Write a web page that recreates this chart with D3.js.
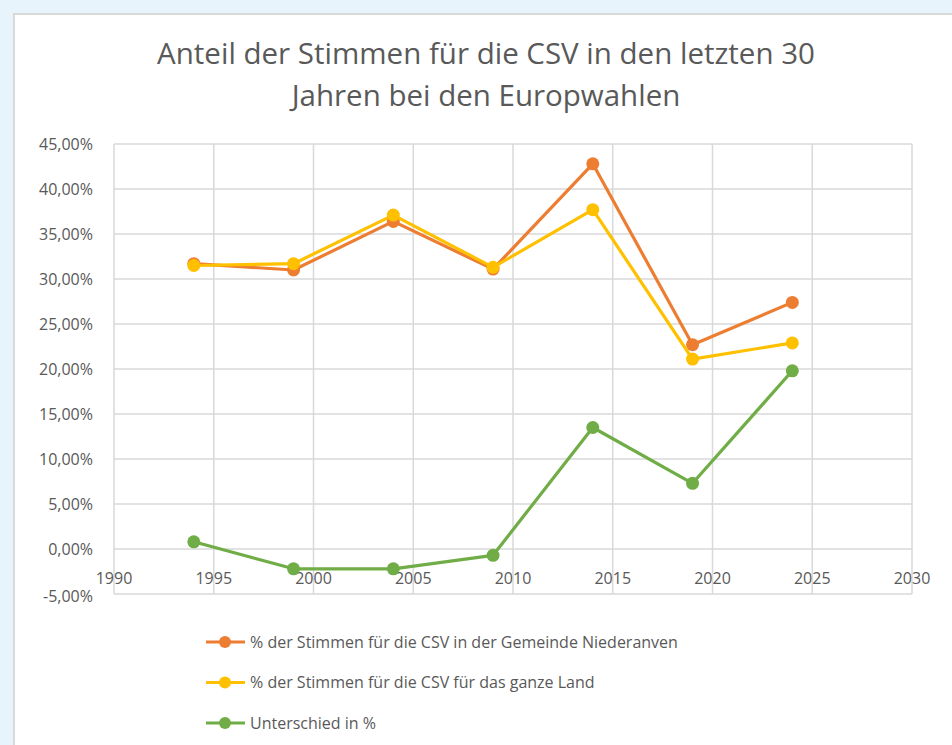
<!DOCTYPE html>
<html>
<head>
<meta charset="utf-8">
<title>CSV Europawahlen</title>
<style>
body { margin: 0; background: #e8f4fc; }
.card { position: absolute; left: 13px; top: 13px; width: 960px; height: 760px;
  background: #fff; border-left: 2px solid #d9d9d9; border-top: 2px solid #d9d9d9; }
svg { position: absolute; left: 0; top: 0; }
text { font-family: 'Open Sans', sans-serif; fill: #595959; }
.grid line { stroke: #d9d9d9; stroke-width: 1.5; }
.axis text { font-size: 16px; }
</style>
</head>
<body>
<div class="card"></div>
<svg width="952" height="745"></svg>
<script src="https://d3js.org/d3.v7.min.js"></script>
<script>

var years = [1994, 1999, 2004, 2009, 2014, 2019, 2024];
var gemeinde = [31.7, 31.0, 36.4, 31.1, 42.8, 22.7, 27.4];
var land = [31.5, 31.7, 37.1, 31.3, 37.7, 21.1, 22.9];
var unterschied = [0.8, -2.2, -2.2, -0.7, 13.5, 7.3, 19.8];

var seriesNames = [
  "% der Stimmen für die CSV in der Gemeinde Niederanven",
  "% der Stimmen für die CSV für das ganze Land",
  "Unterschied in %"
];
var colors = ["#ed7d31", "#ffc000", "#70ad47"];
var xTicks = [1990, 1995, 2000, 2005, 2010, 2015, 2020, 2025, 2030];
var yTicks = [-5, 0, 5, 10, 15, 20, 25, 30, 35, 40, 45];

var svg = d3.select("svg");

var x = d3.scaleLinear().domain([1990, 2030]).range([114, 912]);
var y = d3.scaleLinear().domain([-5, 45]).range([594, 144]);

// title
svg.append("text")
  .attr("x", 486).attr("y", 64)
  .attr("text-anchor", "middle")
  .style("font-size", "29.5px")
  .text("Anteil der Stimmen für die CSV in den letzten 30");
svg.append("text")
  .attr("x", 486).attr("y", 106)
  .attr("text-anchor", "middle")
  .style("font-size", "29.5px")
  .text("Jahren bei den Europwahlen");

// grid
var grid = svg.append("g").attr("class", "grid");
grid.selectAll(".h").data(yTicks).enter().append("line")
  .attr("x1", x(1990)).attr("x2", x(2030))
  .attr("y1", function(d){ return y(d); }).attr("y2", function(d){ return y(d); });
grid.selectAll(".v").data(xTicks).enter().append("line")
  .attr("x1", function(d){ return x(d); }).attr("x2", function(d){ return x(d); })
  .attr("y1", y(45)).attr("y2", y(-5));

// y axis labels
var fmt = function(d) { return d3.format(".2f")(d).replace(".", ",").replace("−", "-") + "%"; };
var yAxis = svg.append("g").attr("class", "axis");
yAxis.selectAll("text").data(yTicks).enter().append("text")
  .attr("x", 93)
  .attr("y", function(d){ return y(d) + (d < 0 ? 2 : 0); })
  .attr("dy", "0.35em")
  .attr("text-anchor", "end")
  .text(fmt);

// x axis labels (sit on the 0% line)
var xAxis = svg.append("g").attr("class", "axis");
xAxis.selectAll("text").data(xTicks).enter().append("text")
  .attr("x", function(d){ return x(d); })
  .attr("y", y(0) + 35)
  .attr("text-anchor", "middle")
  .text(function(d){ return d; });

// series
var all = [gemeinde, land, unterschied];
var line = d3.line()
  .x(function(d, i){ return x(years[i]); })
  .y(function(d){ return y(d); });

all.forEach(function(vals, k) {
  var g = svg.append("g");
  g.append("path")
    .datum(vals)
    .attr("d", line)
    .attr("fill", "none")
    .attr("stroke", colors[k])
    .attr("stroke-width", 3.2)
    .attr("stroke-linejoin", "round");
  g.selectAll("circle").data(vals).enter().append("circle")
    .attr("cx", function(d, i){ return x(years[i]); })
    .attr("cy", function(d){ return y(d); })
    .attr("r", 6.5)
    .attr("fill", colors[k]);
});

// legend
var legend = svg.append("g").selectAll("g")
  .data(seriesNames).enter().append("g")
  .attr("transform", function(d, i){ return "translate(206," + (642 + i * 40.5) + ")"; });
legend.append("line")
  .attr("x1", 0).attr("x2", 39)
  .attr("stroke", function(d, i){ return colors[i]; })
  .attr("stroke-width", 3);
legend.append("circle")
  .attr("cx", 19).attr("r", 6)
  .attr("fill", function(d, i){ return colors[i]; });
legend.append("text")
  .attr("x", 44).attr("dy", "0.35em")
  .style("font-size", "16px")
  .text(function(d){ return d; });

</script>
</body>
</html>
